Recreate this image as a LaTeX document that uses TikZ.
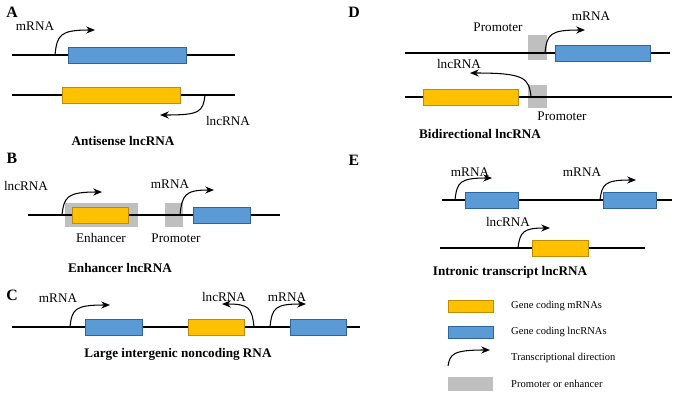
\documentclass[tikz,border=0pt]{standalone}
\usepackage{fontspec}
\setmainfont{Liberation Serif}
\usetikzlibrary{arrows.meta,positioning}
\definecolor{bluebox}{RGB}{91,155,213}
\definecolor{bluedge}{RGB}{46,100,160}
\definecolor{yellowbox}{RGB}{255,192,0}
\definecolor{yellowedge}{RGB}{190,140,0}
\definecolor{greybox}{RGB}{191,191,191}
\tikzset{
  dna/.style={line width=1pt},
  lnc/.style={draw=bluedge,fill=bluebox,line width=0.5pt},
  mrn/.style={draw=yellowedge,fill=yellowbox,line width=0.5pt},
  reg/.style={fill=greybox},
  tx/.style={-{Stealth[length=5pt,width=4pt]},line width=0.6pt},
  lab/.style={font=\fontsize{7.5}{9}\selectfont},
  ttl/.style={font=\bfseries\fontsize{7.5}{9}\selectfont},
  pan/.style={font=\bfseries\fontsize{9}{10}\selectfont},
  leg/.style={font=\fontsize{6}{7}\selectfont,anchor=west}
}
\begin{document}
\begin{tikzpicture}[x=0.02cm,y=-0.02cm]
  \useasboundingbox (0,0) rectangle (677,406);

  % A antisense
  \node[pan] (pA) at (12,12) {A};
  \draw[dna] (12,55) -- (235,55);
  \draw[lnc] (68,47) rectangle (186,63);
  \coordinate (a1) at (55,55);
  \coordinate (a1e) at (95,30);
  \draw[tx] (a1) .. controls (57,35) and (60,30) .. (a1e);
  \node[lab] (a1t) at (35,26) {mRNA};
  \draw[dna] (12,95) -- (235,95);
  \draw[mrn] (62,87) rectangle (180,103);
  \coordinate (a2) at (205,95);
  \coordinate (a2e) at (160,115);
  \draw[tx] (a2) .. controls (203,112) and (200,115) .. (a2e);
  \node[lab] (a2t) at (228,121) {lncRNA};
  \node[ttl] (tA) at (123,141) {Antisense lncRNA};

  % B enhancer
  \node[pan] (pB) at (12,158) {B};
  \fill[reg] (65,203) rectangle (138,227);
  \fill[reg] (165,203) rectangle (183,227);
  \draw[dna] (28,215) -- (280,215);
  \draw[mrn] (72,207) rectangle (128,223);
  \draw[lnc] (193,207) rectangle (250,223);
  \coordinate (b1) at (62,215);
  \coordinate (b1e) at (102,192);
  \draw[tx] (b1) .. controls (64,197) and (67,192) .. (b1e);
  \node[lab] (b1t) at (26,186) {lncRNA};
  \coordinate (b2) at (180,215);
  \coordinate (b2e) at (214,190);
  \draw[tx] (b2) .. controls (182,195) and (185,190) .. (b2e);
  \node[lab] (b2t) at (170,184) {mRNA};
  \node[lab] (b3t) at (101,238) {Enhancer};
  \node[lab] (b4t) at (176,238) {Promoter};
  \node[ttl] (tB) at (120,268) {Enhancer lncRNA};

  % C lincRNA
  \node[pan] (pC) at (12,295) {C};
  \draw[dna] (12,327) -- (360,327);
  \draw[lnc] (85,319) rectangle (142,335);
  \draw[mrn] (188,319) rectangle (244,335);
  \draw[lnc] (290,319) rectangle (346,335);
  \coordinate (c1) at (70,327);
  \coordinate (c1e) at (110,305);
  \draw[tx] (c1) .. controls (72,309) and (75,305) .. (c1e);
  \node[lab] (c1t) at (58,298) {mRNA};
  \coordinate (c2) at (254,327);
  \coordinate (c2e) at (222,304);
  \draw[tx] (c2) .. controls (252,308) and (249,304) .. (c2e);
  \node[lab] (c2t) at (224,297) {lncRNA};
  \coordinate (c3) at (270,327);
  \coordinate (c3e) at (306,304);
  \draw[tx] (c3) .. controls (272,308) and (275,304) .. (c3e);
  \node[lab] (c3t) at (287,297) {mRNA};
  \node[ttl] (tC) at (178,354) {Large intergenic noncoding RNA};

  % D bidirectional
  \node[pan] (pD) at (354,12) {D};
  \fill[reg] (528,35) rectangle (547,60);
  \fill[reg] (528,85) rectangle (547,108);
  \draw[dna] (405,53) -- (670,53);
  \draw[lnc] (555,45) rectangle (650,61);
  \coordinate (d1) at (545,53);
  \coordinate (d1e) at (585,30);
  \draw[tx] (d1) .. controls (547,34) and (550,30) .. (d1e);
  \node[lab] (d1t) at (498,27) {Promoter};
  \node[lab] (d2t) at (591,16) {mRNA};
  \draw[dna] (405,97) -- (672,97);
  \draw[mrn] (423,89) rectangle (518,105);
  \coordinate (d2) at (531,97);
  \coordinate (d2e) at (470,73);
  \draw[tx] (d2) .. controls (529,78) and (525,73) .. (d2e);
  \node[lab] (d3t) at (459,64) {lncRNA};
  \node[lab] (d4t) at (562,116) {Promoter};
  \node[ttl] (tD) at (480,134) {Bidirectional lncRNA};

  % E intronic
  \node[pan] (pE) at (354,160) {E};
  \draw[dna] (442,200) -- (672,200);
  \draw[lnc] (465,192) rectangle (518,208);
  \draw[lnc] (603,192) rectangle (656,208);
  \coordinate (e1) at (455,200);
  \coordinate (e1e) at (492,178);
  \draw[tx] (e1) .. controls (457,182) and (460,178) .. (e1e);
  \node[lab] (e1t) at (470,172) {mRNA};
  \coordinate (e2) at (600,200);
  \coordinate (e2e) at (636,180);
  \draw[tx] (e2) .. controls (602,184) and (605,180) .. (e2e);
  \node[lab] (e2t) at (582,172) {mRNA};
  \draw[dna] (440,248) -- (645,248);
  \draw[mrn] (532,240) rectangle (588,256);
  \coordinate (e3) at (518,248);
  \coordinate (e3e) at (550,228);
  \draw[tx] (e3) .. controls (520,232) and (523,228) .. (e3e);
  \node[lab] (e3t) at (508,222) {lncRNA};
  \node[ttl] (tE) at (510,272) {Intronic transcript lncRNA};

  % legend
  \draw[mrn] (448,300) rectangle (493,312);
  \node[leg] (l1) at (505,306) {Gene coding mRNAs};
  \draw[lnc] (448,326) rectangle (493,338);
  \node[leg] (l2) at (505,332) {Gene coding lncRNAs};
  \coordinate (l3s) at (448,366);
  \coordinate (l3e) at (490,350);
  \draw[tx] (l3s) .. controls (450,354) and (453,350) .. (l3e);
  \node[leg] (l3) at (505,358) {Transcriptional direction};
  \fill[reg] (448,377) rectangle (493,391);
  \node[leg] (l4) at (505,384) {Promoter or enhancer};
\end{tikzpicture}
\end{document}
